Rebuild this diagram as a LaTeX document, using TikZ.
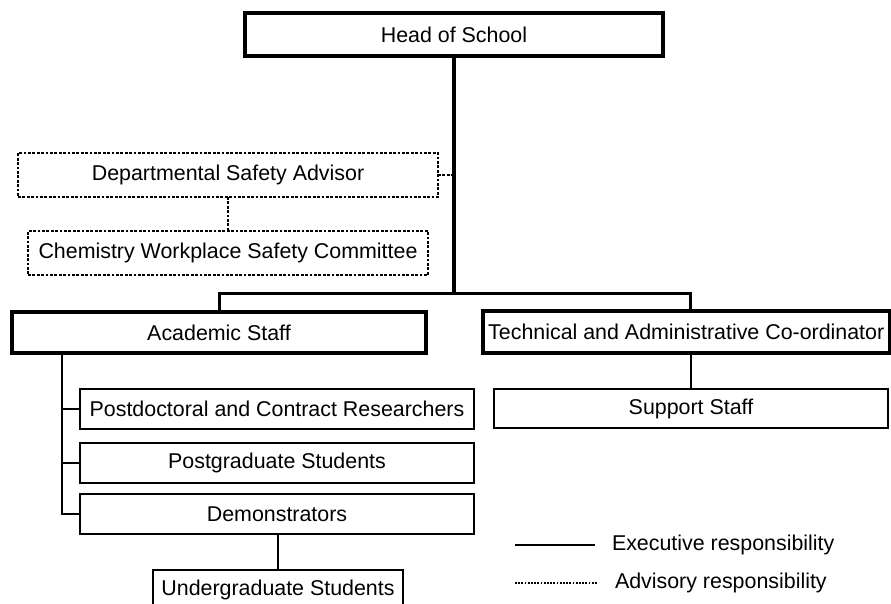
\documentclass[tikz,border=0pt]{standalone}
\usepackage{fontspec}
\setmainfont{Liberation Sans}
\begin{document}
\begin{tikzpicture}[x=1pt,y=-1pt,
  every node/.style={inner sep=0pt,outer sep=0pt,font=\fontsize{21.4}{25}\selectfont},
  mainbox/.style={draw=black,line width=3.6pt,fill=white},
  subbox/.style={draw=black,line width=2.5pt,fill=white},
  advbox/.style={draw=black,line width=2.8pt,dash pattern=on 2.8pt off 1.6pt,fill=white},
  execline/.style={draw=black,line width=2.5pt},
  advline/.style={draw=black,line width=2.6pt,dash pattern=on 2.8pt off 1.6pt},
  legtext/.style={anchor=west}]
\useasboundingbox (0,0) rectangle (891,604);
\clip (0,0) rectangle (891,604);
\fill[white] (0,0) rectangle (891,604);

% junction points of the connector tree
\coordinate (split) at (454,293);
\coordinate (spine) at (62,0);

% trunk and the bar that splits it (under the boxes)
\draw[execline,line width=3.2pt] (454,56) -- (split);
\draw[execline,line width=3pt] (219,311) |- (split) -| (690,311);

% boxes
\node[mainbox,minimum width=418pt,minimum height=43pt] (head) at (454,34.5) {Head of School};
\node[advbox,minimum width=420pt,minimum height=44pt] (dsa) at (228,175) {Departmental Safety Advisor};
\node[advbox,minimum width=400pt,minimum height=44pt] (cwsc) at (228,253) {Chemistry Workplace Safety Committee};
\node[mainbox,minimum width=414pt,minimum height=41pt] (acad) at (219,332.5) {Academic Staff};
\node[mainbox,minimum width=406.5pt,minimum height=42pt] (ta) at (686.25,332) {Technical and Administrative Co-ordinator};
\node[subbox,minimum width=394pt,minimum height=40pt] (post) at (277,409) {Postdoctoral and Contract Researchers};
\node[subbox,minimum width=394pt,minimum height=40pt] (pgrad) at (277,463) {Postgraduate Students};
\node[subbox,minimum width=394pt,minimum height=40pt] (demo) at (277,514) {Demonstrators};
\node[subbox,minimum width=250pt,minimum height=40pt] (under) at (278,590) {Undergraduate Students};
\node[subbox,minimum width=394pt,minimum height=39pt] (support) at (691,408.5) {Support Staff};

% executive links
\draw[execline] (head.south) -- (split);
\draw[execline] (acad.south -| spine) |- (demo.west);
\draw[execline] (spine |- post.west) -- (post.west);
\draw[execline] (spine |- pgrad.west) -- (pgrad.west);
\draw[execline] (under.north) -- (under.north |- demo.south);
\draw[execline] (support.north) -- (support.north |- ta.south);

% advisory links
\draw[advline] (dsa.east) -- (dsa.east -| head.south);
\draw[advline] (dsa.south) -- (cwsc.north);

% legend
\coordinate (exA) at (515,545);
\coordinate (exB) at (595,545);
\coordinate (adA) at (515,583);
\coordinate (adB) at (597,583);
\draw[execline,line width=2.3pt] (exA) -- (exB);
\draw[draw=black,line width=2pt,dash pattern=on 1.8pt off 1.4pt] (adA) -- (adB);
\node[legtext] (exlabel) at (612,545) {Executive responsibility};
\node[legtext] (adlabel) at (615,583) {Advisory responsibility};
\end{tikzpicture}
\end{document}
